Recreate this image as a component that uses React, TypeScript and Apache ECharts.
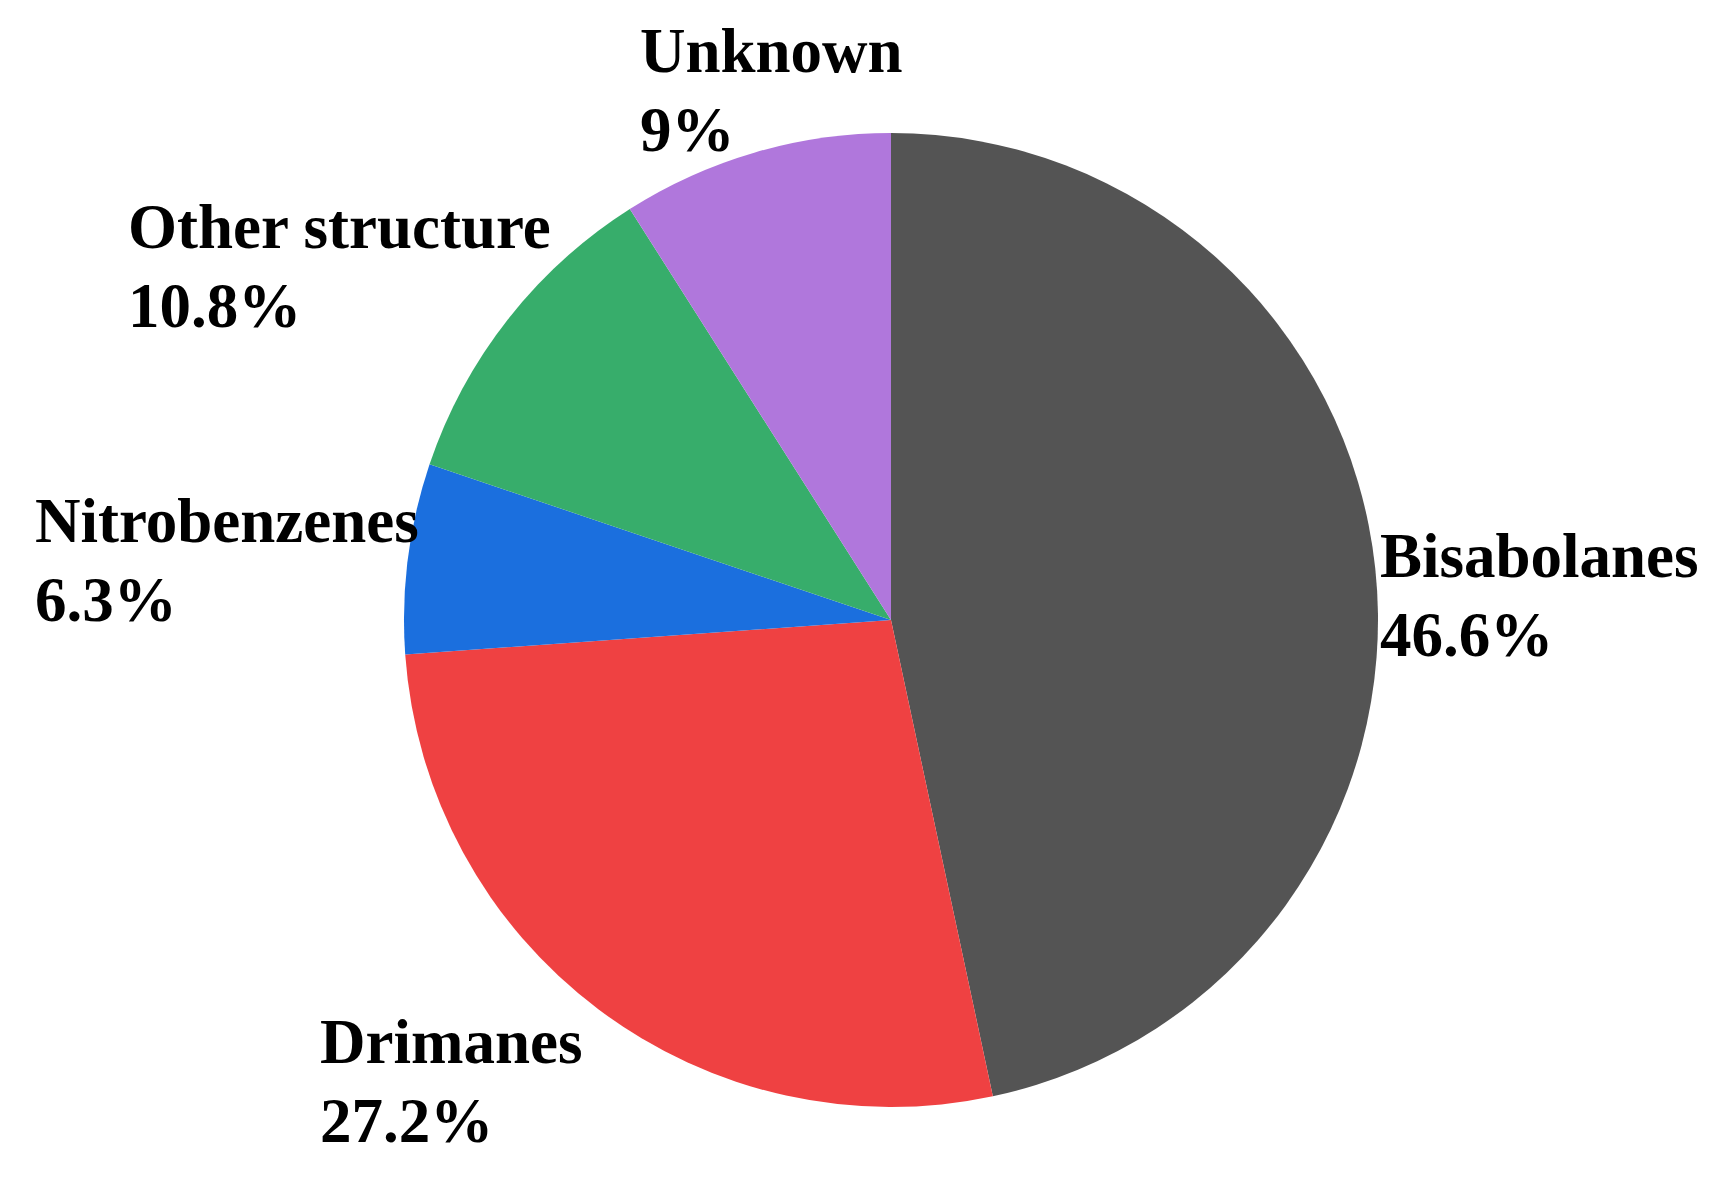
import React, { useEffect, useRef } from "react";
import * as echarts from "echarts";

const categories = ["Bisabolanes", "Drimanes", "Nitrobenzenes", "Other structure", "Unknown"];
const values = [46.6, 27.2, 6.3, 10.8, 9];
const colors = ["#545454", "#EF4142", "#1B6FDE", "#37AD6B", "#B077DC"];
// label anchor positions (left, vertical middle of two-line block)
const labelPos: [number, number][] = [
  [1380, 595],
  [320, 1081],
  [35, 560],
  [128, 266],
  [640, 90],
];

export default function App() {
  const ref = useRef<HTMLDivElement>(null);
  useEffect(() => {
    if (!ref.current) return;
    const chart = echarts.init(ref.current, undefined, { renderer: "svg" });
    chart.setOption({
      animation: false,
      backgroundColor: "#ffffff",
      series: [
        {
          type: "pie",
          center: [891, 620],
          radius: 487,
          startAngle: 90,
          clockwise: true,
          data: categories.map((c, i) => ({
            name: c,
            value: values[i],
            itemStyle: { color: colors[i] },
          })),
          itemStyle: { borderWidth: 0 },
          label: {
            show: true,
            formatter: "{b}\n{c}%",
            fontFamily: "Liberation Serif",
            fontWeight: "bold",
            fontSize: 63,
            lineHeight: 79,
            color: "#000000",
            overflow: "none",
            width: 600,
          },
          labelLine: { show: false },
          labelLayout: (params: any) => {
            const p = labelPos[params.dataIndex];
            return { x: p[0], y: p[1], align: "left", verticalAlign: "middle", hideOverlap: false };
          },
          emphasis: { disabled: true },
        },
      ],
    });
    return () => chart.dispose();
  }, []);
  return <div ref={ref} style={{ position: "fixed", left: 0, top: 0, width: 1712, height: 1190 }} />;
}
